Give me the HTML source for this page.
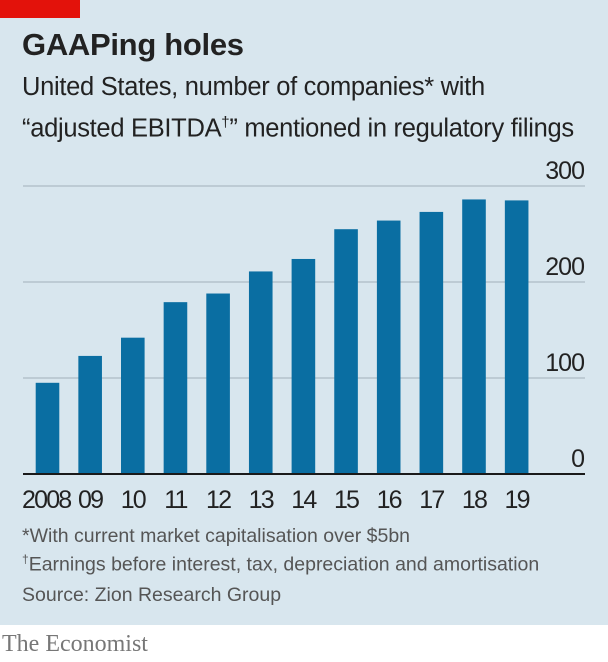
<!DOCTYPE html>
<html><head><meta charset="utf-8"><style>
body{margin:0;width:608px;height:662px;background:#fff;font-family:"Liberation Sans",sans-serif;overflow:hidden}
#panel{position:absolute;left:0;top:0;width:608px;height:625px;background:#d8e6ee}
.t{position:absolute;white-space:nowrap;color:#222}
</style></head><body>
<div id="panel"></div>
<div style="position:absolute;left:0;top:0;width:80px;height:18px;background:#e3120b"></div>
<div class="t" style="left:22px;top:27px;font-size:31px;font-weight:bold;letter-spacing:-0.3px">GAAPing holes</div>
<div class="t" style="left:22px;top:70px;font-size:25.5px;line-height:35px;letter-spacing:-0.3px">United States, number of companies* with<br>“adjusted EBITDA<sup style="font-size:15px">†</sup>” mentioned in regulatory filings</div>
<svg id="chart" width="608" height="625" style="position:absolute;left:0;top:0"></svg>
<div class="t" style="left:22px;top:525px;font-size:19.5px;color:#555">*With current market capitalisation over $5bn</div>
<div class="t" style="left:22px;top:552px;font-size:19.5px;color:#555"><sup style="font-size:12px">†</sup>Earnings before interest, tax, depreciation and amortisation</div>
<div class="t" style="left:22px;top:584px;font-size:19.5px;color:#555">Source: Zion Research Group</div>
<div class="t" style="left:2px;top:631px;font-size:24px;font-family:'Liberation Serif',serif;color:#777">The Economist</div>
<script>
const categories=["2008","09","10","11","12","13","14","15","16","17","18","19"];
const values=[95,123,142,179,188,211,224,255,264,273,286,285];
const yTicks=[0,100,200,300];
const svg=document.getElementById('chart');
const NS='http://www.w3.org/2000/svg';
const y0=474,pxPer=0.96,xL=23,xR=585;
const y=v=>y0-v*pxPer;
const x=i=>35.7+i*42.65;
const bw=23.6;
function mk(t,a){const e=document.createElementNS(NS,t);for(const k in a)e.setAttribute(k,a[k]);svg.appendChild(e);return e;}
yTicks.forEach(v=>{
 if(v>0){const l=mk('line',{x1:xL,x2:xR,y1:y(v),y2:y(v),stroke:'#b4c2cb','stroke-width':1.5});
 
 }
 const t=mk('text',{x:584,y:y(v)-7,'text-anchor':'end','font-size':25,fill:'#222','font-family':'Liberation Sans, sans-serif','letter-spacing':-1});
 t.textContent=v;
 
 
});
values.forEach((v,i)=>{
 const r=mk('rect',{x:x(i),y:y(v),width:bw,height:v*pxPer,fill:'#0a6ea2'});
 
 
 const t=mk('text',{x:i==0?22:x(i)+bw/2,y:508,'text-anchor':i==0?'start':'middle','font-size':25,fill:'#222','font-family':'Liberation Sans, sans-serif','letter-spacing':-1.8});
 t.textContent=categories[i];
 
 
});
const b=mk('line',{x1:xL,x2:xR,y1:y0,y2:y0,stroke:'#1a1a1a','stroke-width':2});


</script>
</body></html>
